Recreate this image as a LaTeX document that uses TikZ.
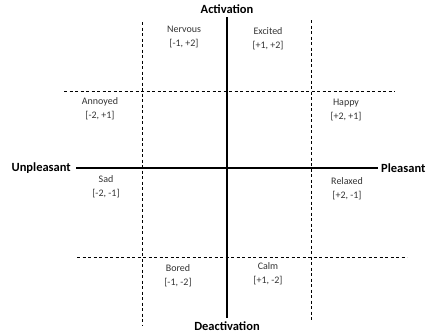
\documentclass[tikz,border=0pt]{standalone}
\usepackage{fontspec}
\setmainfont{Carlito}
\usepackage{tikz}

\begin{document}
\begin{tikzpicture}[x=1pt, y=-1pt, every node/.style={font=\fontsize{10}{12}\selectfont, align=center, inner sep=0pt},
  emotion/.style={text=black!80},
  axislabel/.style={font=\fontsize{12.5}{14}\selectfont\bfseries},
  grid/.style={dash pattern=on 3pt off 2.5pt, line width=0.8pt},
  axis/.style={line width=1.8pt}]
\useasboundingbox (0,0) rectangle (428,335);

% Axes
\node[axislabel] (act) at (227,9) {Activation};
\node[axislabel] (deact) at (227,326) {Deactivation};
\node[axislabel, anchor=east] (unpl) at (71,168) {Unpleasant};
\node[axislabel, anchor=west] (pl) at (381,168) {Pleasant};
\coordinate (top) at (227,17);
\coordinate (bottom) at (227,318);
\coordinate (left) at (76,168);
\coordinate (right) at (378,168);
\draw[axis] (top) -- (bottom);
\draw[axis] (left) -- (right);

% Dashed grid
\coordinate (v1a) at (142,22);  \coordinate (v1b) at (142,325);
\coordinate (v2a) at (311,20);  \coordinate (v2b) at (311,322);
\coordinate (h1a) at (64,91);   \coordinate (h1b) at (395,91);
\coordinate (h2a) at (77,257);  \coordinate (h2b) at (407,257);
\draw[grid] (v1a) -- (v1b);
\draw[grid] (v2a) -- (v2b);
\draw[grid] (h1a) -- (h1b);
\draw[grid] (h2a) -- (h2b);

% Emotions
\node[emotion] (nervous) at (184,37) {Nervous\\[2pt][-1, +2]};
\node[emotion] (excited) at (268,39) {Excited\\[2pt][+1, +2]};
\node[emotion] (annoyed) at (100,109) {Annoyed\\[2pt][-2, +1]};
\node[emotion] (happy) at (346,110) {Happy\\[2pt][+2, +1]};
\node[emotion] (sad) at (106,187) {Sad\\[2pt][-2, -1]};
\node[emotion] (relaxed) at (347,189) {Relaxed\\[2pt][+2, -1]};
\node[emotion] (bored) at (178,276) {Bored\\[2pt][-1, -2]};
\node[emotion] (calm) at (268,274) {Calm\\[2pt][+1, -2]};

\end{tikzpicture}
\end{document}
